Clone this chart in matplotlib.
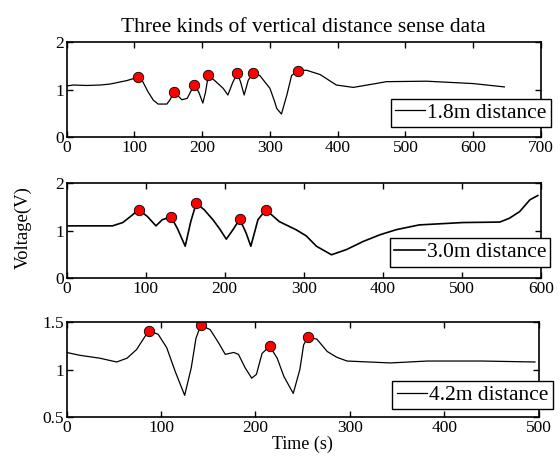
import matplotlib
matplotlib.use('Agg')
import matplotlib.pyplot as plt

plt.rcParams['font.family'] = ['Liberation Serif', 'DejaVu Serif']

# 1.8 m distance trace
t1 = [0, 10, 30, 50, 64, 88, 105, 112, 120, 128, 135, 148, 153, 158, 164, 170,
      178, 188, 195, 201, 205, 209, 218, 231, 238, 245, 252, 257, 262, 268, 275,
      285, 300, 307, 310, 317, 325, 332, 342, 354, 374, 398, 423, 452, 472, 531,
      600, 646]
v1 = [1.08, 1.10, 1.09, 1.10, 1.12, 1.19, 1.26, 1.18, 0.96, 0.78, 0.70, 0.70,
      0.80, 0.96, 0.88, 0.79, 0.82, 1.10, 0.95, 0.72, 0.95, 1.30, 1.20, 1.03,
      0.89, 1.15, 1.35, 1.15, 0.89, 1.20, 1.35, 1.30, 1.03, 0.75, 0.61, 0.49,
      0.89, 1.30, 1.40, 1.41, 1.32, 1.10, 1.05, 1.12, 1.17, 1.18, 1.13, 1.06]
pk1_t = [105, 158, 188, 209, 252, 275, 342]
pk1_v = [1.26, 0.96, 1.10, 1.30, 1.35, 1.35, 1.40]

# 3.0 m distance trace
t2 = [0, 30, 58, 71, 81, 91, 102, 113, 121, 132, 140, 150, 157, 164, 174, 185,
      193, 202, 210, 219, 227, 233, 242, 252, 269, 290, 303, 316, 335, 354, 375,
      396, 417, 446, 501, 548, 560, 573, 586, 596]
v2 = [1.10, 1.10, 1.10, 1.17, 1.30, 1.44, 1.30, 1.10, 1.23, 1.29, 1.05, 0.67,
      1.19, 1.58, 1.44, 1.23, 1.05, 0.82, 1.01, 1.24, 0.95, 0.67, 1.23, 1.44,
      1.19, 1.02, 0.89, 0.67, 0.49, 0.60, 0.77, 0.91, 1.02, 1.12, 1.17, 1.18,
      1.26, 1.40, 1.65, 1.74]
pk2_t = [91, 132, 164, 219, 252]
pk2_v = [1.44, 1.29, 1.58, 1.24, 1.44]

# 4.2 m distance trace
t3 = [0, 14, 35, 53, 64, 74, 87, 97, 106, 115, 125, 132, 137, 142, 152, 161,
      168, 177, 182, 189, 196, 201, 207, 215, 223, 230, 240, 247, 251, 255.5,
      265, 276, 286, 297, 343, 382, 440, 496]
v3 = [1.18, 1.15, 1.12, 1.08, 1.12, 1.21, 1.41, 1.37, 1.23, 0.98, 0.73, 1.02,
      1.33, 1.465, 1.42, 1.28, 1.16, 1.18, 1.16, 1.02, 0.91, 0.95, 1.17, 1.245,
      1.12, 0.93, 0.75, 1.00, 1.26, 1.34, 1.32, 1.19, 1.13, 1.09, 1.07, 1.09,
      1.09, 1.08]
pk3_t = [87, 142, 215, 255.5]
pk3_v = [1.41, 1.465, 1.245, 1.34]

labels = ['1.8m distance', '3.0m distance', '4.2m distance']

fig = plt.figure(figsize=(5.6, 4.58), dpi=100)
ax1 = fig.add_axes([0.119, 0.700, 0.847, 0.208])
ax2 = fig.add_axes([0.119, 0.393, 0.847, 0.207])
ax3 = fig.add_axes([0.119, 0.089, 0.843, 0.208])

panels = [
    (ax1, t1, v1, pk1_t, pk1_v, (0, 700), (0, 2), [0, 1, 2], ['0', '1', '2'], 0.9, (0.852, 0.257)),
    (ax2, t2, v2, pk2_t, pk2_v, (0, 600), (0, 2), [0, 1, 2], ['0', '1', '2'], 1.2, (0.851, 0.272)),
    (ax3, t3, v3, pk3_t, pk3_v, (0, 500), (0.5, 1.5), [0.5, 1, 1.5], ['0.5', '1', '1.5'], 0.9, (0.860, 0.232)),
]

for i, (ax, t, v, pt, pv, xl, yl, yt, ytl, lw, lpos) in enumerate(panels):
    ax.plot(t, v, color='black', lw=lw, label=labels[i])
    ax.plot(pt, pv, 'o', color='red', mec='black', mew=0.6, ms=7.5)
    ax.set_xlim(*xl)
    ax.set_ylim(*yl)
    ax.set_yticks(yt)
    ax.set_yticklabels(ytl)
    ax.tick_params(direction='in', top=True, right=True, length=4, width=1,
                   labelsize=12.5, pad=2)
    for s in ax.spines.values():
        s.set_linewidth(1.2)
    leg = ax.legend(loc='center', bbox_to_anchor=lpos, fontsize=15.5,
                    fancybox=False, framealpha=1, edgecolor='black',
                    handlelength=1.4, handletextpad=0.1, borderpad=0.2,
                    borderaxespad=0)
    leg.get_frame().set_linewidth(1.0)
    leg.set_zorder(5)

ax1.set_title('Three kinds of vertical distance sense data', fontsize=15.5, pad=7)
fig.text(0.042, 0.503, 'Voltage(V)', rotation=90, ha='center', va='center', fontsize=13.5)
ax3.set_xlabel('Time (s)', fontsize=13, labelpad=0)

fig.savefig('out.png', dpi=100)
